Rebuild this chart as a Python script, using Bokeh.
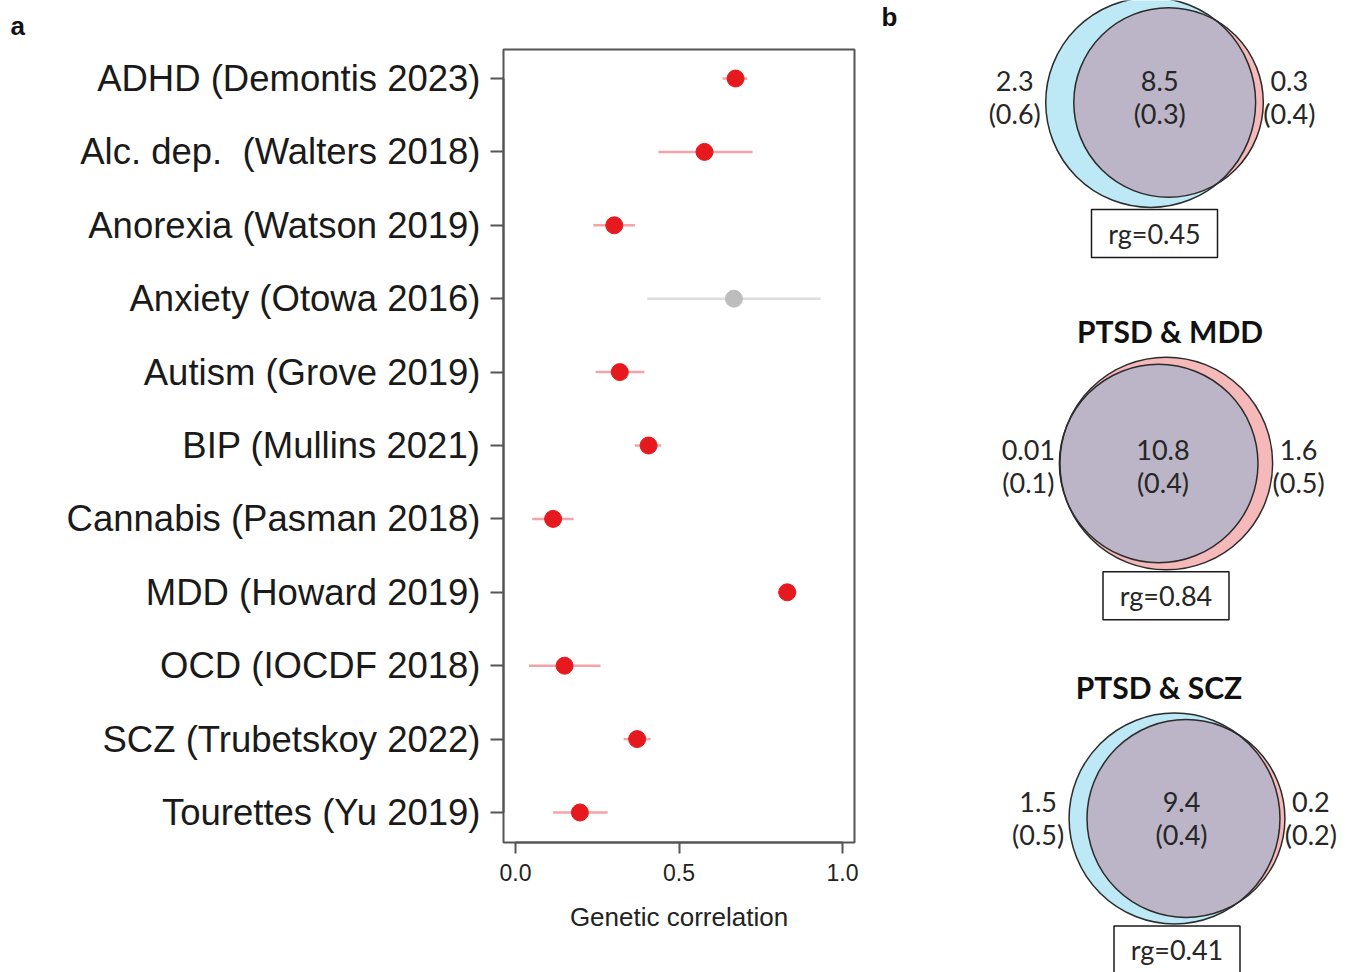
import numpy as np
from bokeh.plotting import figure
from bokeh.models import Range1d, FixedTicker, Title, ColumnDataSource, NumeralTickFormatter
from bokeh.layouts import row, column
from bokeh.embed import file_html
from bokeh.resources import INLINE
from bokeh.core.properties import value

# ---------------- data: panel a ----------------
traits = ["ADHD (Demontis 2023)", "Alc. dep. \u00a0(Walters 2018)", "Anorexia (Watson 2019)",
          "Anxiety (Otowa 2016)", "Autism (Grove 2019)", "BIP (Mullins 2021)",
          "Cannabis (Pasman 2018)", "MDD (Howard 2019)", "OCD (IOCDF 2018)",
          "SCZ (Trubetskoy 2022)", "Tourettes (Yu 2019)"]
rg_est = [0.673, 0.578, 0.302, 0.668, 0.319, 0.407, 0.115, 0.831, 0.150, 0.372, 0.197]
ci_low = [0.633, 0.437, 0.238, 0.403, 0.245, 0.365, 0.051, 0.802, 0.041, 0.331, 0.115]
ci_high = [0.709, 0.725, 0.365, 0.933, 0.394, 0.446, 0.178, 0.859, 0.260, 0.413, 0.282]
significant = [True, True, True, False, True, True, True, True, True, True, True]
x_ticks = [0.0, 0.5, 1.0]

# ---------------- data: panel b ----------------
venn_titles = ["", "PTSD & MDD", "PTSD & SCZ"]
ptsd_only = [2.3, 0.01, 1.5]
ptsd_only_se = [0.6, 0.1, 0.5]
shared = [8.5, 10.8, 9.4]
shared_se = [0.3, 0.4, 0.4]
other_only = [0.3, 1.6, 0.2]
other_only_se = [0.4, 0.5, 0.2]
venn_rg = [0.45, 0.84, 0.41]

FONT = "Liberation Sans"
VFONT = "Lato"
H = 972

# ---------------- panel a: forest plot ----------------
n = len(traits)
ypos = [n - i for i in range(n)]
dot_col = ["#e6191e" if s else "#bdbdbd" for s in significant]
line_col = ["#f4a3a9" if s else "#dddddd" for s in significant]
src = ColumnDataSource(dict(x=rg_est, lo=ci_low, hi=ci_high, y=ypos, dc=dot_col, lc=line_col))

upx = 327.0      # pixels per unit (styling)
ypx = 73.4
p = figure(width=878, height=H,
           x_range=Range1d(-12 / upx, 1 + 12 / upx),
           y_range=Range1d(1 - 30 / ypx, n + 29 / ypx),
           output_backend="svg", toolbar_location=None,
           min_border_left=503, min_border_right=24, min_border_top=49, min_border_bottom=H - 842)
p.xgrid.visible = False
p.ygrid.visible = False
p.outline_line_color = "#555555"
p.outline_line_width = 2
p.background_fill_color = "white"
p.border_fill_color = "white"

p.segment("lo", "y", "hi", "y", source=src, line_color="lc", line_width=2.5)
p.scatter("x", "y", source=src, size=17, fill_color="dc", line_color="dc")

xa = p.xaxis[0]
xa.ticker = FixedTicker(ticks=x_ticks)
xa.formatter = NumeralTickFormatter(format="0.0")
xa.bounds = (0, 1)
xa.axis_line_color = "#555555"
xa.axis_line_width = 2
xa.major_tick_line_color = "#555555"
xa.major_tick_line_width = 2
xa.major_tick_out = 11
xa.major_tick_in = 0
xa.minor_tick_line_color = None
xa.major_label_text_font = FONT
xa.major_label_text_font_size = "23px"
xa.major_label_text_color = "#222222"
xa.major_label_standoff = 10
xa.axis_label = "Genetic correlation"
xa.axis_label_text_font = FONT
xa.axis_label_text_font_size = "26px"
xa.axis_label_text_font_style = "normal"
xa.axis_label_text_color = "#222222"
xa.axis_label_standoff = 18

ya = p.yaxis[0]
ya.ticker = FixedTicker(ticks=ypos)
ya.major_label_overrides = {y: t for y, t in zip(ypos, traits)}
ya.bounds = (1, n)
ya.axis_line_color = "#555555"
ya.axis_line_width = 2
ya.major_tick_line_color = "#555555"
ya.major_tick_line_width = 2
ya.major_tick_out = 13
ya.major_tick_in = 0
ya.minor_tick_line_color = None
ya.major_label_text_font = FONT
ya.major_label_text_font_size = "36.5px"
ya.major_label_text_color = "#1a1a1a"
ya.major_label_standoff = 10

p.add_layout(Title(text="a", align="left", offset=-493, standoff=17,
                   text_font=FONT, text_font_size="26px", text_font_style="bold",
                   text_color="#111111"), "above")

# ---------------- panel b: Venn diagrams ----------------
def lens_area(rA, rB, d):
    if d >= rA + rB:
        return 0.0
    if d <= abs(rA - rB):
        return np.pi * min(rA, rB) ** 2
    a1 = rA ** 2 * np.arccos((d * d + rA * rA - rB * rB) / (2 * d * rA))
    a2 = rB ** 2 * np.arccos((d * d + rB * rB - rA * rA) / (2 * d * rB))
    a3 = 0.5 * np.sqrt((-d + rA + rB) * (d + rA - rB) * (d - rA + rB) * (d + rA + rB))
    return a1 + a2 - a3


def solve_d(rA, rB, target):
    lo, hi = abs(rA - rB) + 1e-12, rA + rB
    for _ in range(200):
        mid = 0.5 * (lo + hi)
        if lens_area(rA, rB, mid) > target:
            lo = mid
        else:
            hi = mid
    return 0.5 * (lo + hi)


pv = figure(width=470, height=H, x_range=Range1d(878, 1348), y_range=Range1d(-H, 0),
            output_backend="svg", toolbar_location=None, min_border=0,
            x_axis_type=None, y_axis_type=None)
pv.outline_line_color = None
pv.background_fill_color = "white"
pv.border_fill_color = "white"

BLUE, PINK, OVER, EDGE = "#bde8f6", "#f6b9b9", "#bbb5c7", "#2b2b2b"
K = 188.6                     # diagram size (all diagrams same total area)
centers_x = [1154, 1165.5, 1176.5]
centers_y = [102, 463, 818]
title_dx = [0, 4, -18]
label_dy = [-5, 3, 0]
center_dx = [-5, 4, -2]

for i in range(3):
    a, sh, b = ptsd_only[i], shared[i], other_only[i]
    total = a + sh + b
    s = K / np.sqrt(total)
    rA_u = np.sqrt((a + sh) / np.pi)
    rB_u = np.sqrt((b + sh) / np.pi)
    d_u = solve_d(rA_u, rB_u, sh)
    rA, rB, d = rA_u * s, rB_u * s, d_u * s
    left = min(-rA, d - rB)
    right = max(rA, d + rB)
    ax = centers_x[i] - 0.5 * (left + right)
    cy = centers_y[i]
    bx = ax + d

    pv.circle([ax], [-cy], radius=rA, fill_color=BLUE, line_color=None)
    pv.circle([bx], [-cy], radius=rB, fill_color=PINK, line_color=None)

    # lens (overlap region)
    x0 = (d * d + rA * rA - rB * rB) / (2 * d)
    y0 = np.sqrt(max(rA * rA - x0 * x0, 0.0))
    thA = np.arctan2(y0, x0)
    phB = np.arctan2(y0, x0 - d)
    tA = np.linspace(-thA, thA, 200)
    tB = np.linspace(phB, 2 * np.pi - phB, 400)
    lx = np.concatenate([ax + rA * np.cos(tA), bx + rB * np.cos(tB)])
    ly = np.concatenate([cy + rA * np.sin(tA), cy + rB * np.sin(tB)])
    pv.patch(lx, -ly, fill_color=OVER, line_color=None)

    pv.circle([ax], [-cy], radius=rA, fill_color=None, line_color=EDGE, line_width=1.5)
    pv.circle([bx], [-cy], radius=rB, fill_color=None, line_color=EDGE, line_width=1.5)

    lens_l = max(-rA, d - rB)
    lens_r = min(rA, d + rB)
    lab_x = [ax + left - 31, ax + 0.5 * (lens_l + lens_r) + center_dx[i], ax + right + 26]
    tops = [f"{a:g}", f"{sh:g}", f"{b:g}"]
    bots = [f"({ptsd_only_se[i]:g})", f"({shared_se[i]:g})", f"({other_only_se[i]:g})"]
    ly0 = cy + label_dy[i]
    pv.text(lab_x, [-(ly0 - 17)] * 3, text=tops, text_font=value(VFONT), text_font_size="27px",
            text_align="center", text_baseline="middle", text_color="#262626")
    pv.text(lab_x, [-(ly0 + 16)] * 3, text=bots, text_font=value(VFONT), text_font_size="27px",
            text_align="center", text_baseline="middle", text_color="#262626")

    rmax = max(rA, rB)
    btop = cy + rmax + 2
    bw, bh = 126, 48
    bxc = centers_x[i]
    pv.patch([bxc - bw / 2, bxc + bw / 2, bxc + bw / 2, bxc - bw / 2],
             [-btop, -btop, -(btop + bh), -(btop + bh)],
             fill_color="white", line_color="#1a1a1a", line_width=1.5)
    pv.text([bxc], [-(btop + bh / 2)], text=[f"rg={venn_rg[i]:.2f}"], text_font=value(VFONT),
            text_font_size="27px", text_align="center", text_baseline="middle", text_color="#262626")

    if venn_titles[i]:
        pv.text([centers_x[i] + title_dx[i]], [-(cy - rmax - 26)], text=[venn_titles[i]],
                text_font=value(VFONT), text_font_size="30px", text_font_style="bold",
                text_align="center", text_baseline="middle", text_color="#111111")

pv.text([881], [-16], text=["b"], text_font=value(FONT), text_font_size="26px",
        text_font_style="bold", text_align="left", text_baseline="alphabetic", text_color="#111111")

layout = row(p, column(pv, spacing=0), spacing=0)
open("out.html", "w").write(file_html(layout, INLINE))
